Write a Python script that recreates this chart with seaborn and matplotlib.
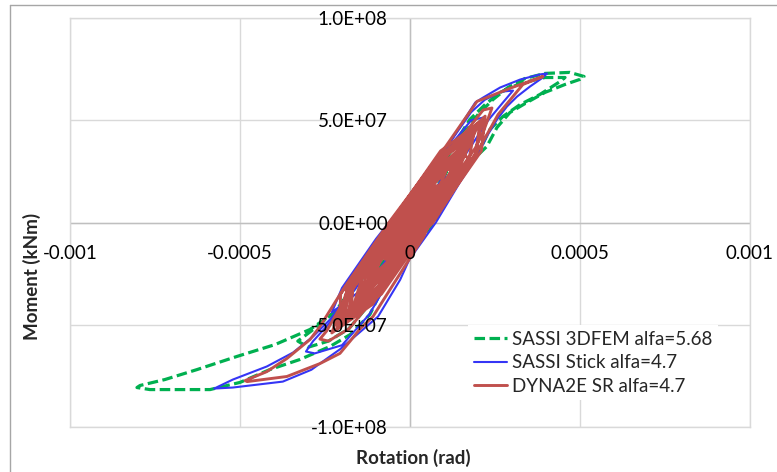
import numpy as np
import pandas as pd
import matplotlib
matplotlib.use("Agg")
import matplotlib.pyplot as plt
from matplotlib.lines import Line2D
from matplotlib.ticker import FuncFormatter
import seaborn as sns

# Moment-rotation hysteresis loops
# rotation in micro-radians, moment in 1e6 kNm
fem_rot = [0, 70, -30, -80, 30, 130, -45, -150, 50,
           150, 226, 256, 294, 344, 397, 456, 500, 512, 470, 397, 338, 288, 244, 200,
           100, -20, -120, -221, -294, -397, -509, -626, -721, -794, -803,
           -765, -588, -500, -412, -324, -235, -176, -118, -60, 72,
           140, 206, 235, 273, 324, 382, 441, 456, 397, 324, 265, 221, 176, 80, -40,
           -150, -230, -290, -330, -300, -240, -180, -120, -40, 40,
           110, -30, -100, 20, 60, 0]
fem_mom = [0, 18, 0, -20, 0, 32, 0, -38, 0,
           25, 37.2, 46.5, 53.8, 58.7, 63.6, 67.5, 70.0, 71.4, 73.4, 72.9, 70.4, 66.0, 60.1, 52.8,
           30, 5, -20, -44.0, -52.3, -59.7, -65.5, -71.9, -76.8, -79.7, -80.7,
           -81.7, -81.7, -78.2, -71.9, -67.0, -60.6, -54.8, -45.0, -25, 0,
           22, 35.7, 45.5, 51.8, 57.7, 62.6, 68.9, 70.9, 70.9, 68.0, 63.6, 57.7, 50.4, 25, 0,
           -30, -45, -53, -58, -61, -58, -52, -40, -15, 5,
           26, 0, -24, 0, 12, 0]

stick_rot = [0, 60, -25, -70, 25, 120, -40, -130, 45,
             150, 190, 215, 180, 120, 40, -40,
             -150, -230, -285, -306, -280, -200, -120, -40, 40,
             150, 230, 275, 303, 270, 220, 180, 100, 0, -100,
             -190, -235, -285, -344, -421, -521, -576, -521, -374, -290, -240, -206, -150, -94,
             -29, -2, 76, 148, 197, 226, 256, 285, 315, 353, 391, 403,
             382, 324, 265, 215, 192, 120, 0, -100, -200,
             -230, -120, 0, 150, 40, -100, 0]
stick_mom = [0, 15, 0, -18, 0, 30, 0, -33, 0,
             35, 45, 51.3, 50, 38, 17, 0,
             -30, -48, -58, -63.1, -64, -60, -45, -22, 0,
             30, 50, 59, 64.5, 64, 60, 54, 35, 12, -15,
             -38, -47.4, -55.7, -63.6, -70.4, -76.8, -81.2, -80.7, -77.8, -72, -66, -62, -54, -46,
             -28, -18.1, 0, 20, 32.3, 42.1, 50.4, 56.7, 61.6, 66.5, 70.9, 72.9,
             72.4, 69.9, 66.0, 61.1, 58.7, 40, 13, -8, -32,
             -44, -30, -2, 30, 10, -20, 0]

dyna_rot = [0,
            53, 30, -40, -47, -24, 46,
            79, 41, -65, -73, -35, 71,
            104, 52, -90, -98, -46, 96,
            146, 89, -111, -140, -83, 117,
            129, 61, -115, -123, -55, 121,
            154, 71, -141, -148, -65, 147,
            110, 50, -170, -195, -85, 100,
            171, 93, -143, -165, -87, 149,
            129, 61, -189, -215, -99, 121,
            179, 80, -167, -173, -75, 172,
            188, 92, -166, -182, -86, 172,
            150, 75, -200, -230, -110, 140,
            196, 84, -186, -190, -78, 192,
            205, 96, -186, -199, -90, 192,
            213, 90, -204, -207, -84, 210,
            221, 120, -186, -215, -114, 192,
            215, 241, 215, 120, 0, -120, -200, -245, -265, -240, -180, -110, -40, 68,
            149, 215, 259, 332, 391, 300, 197, 98, -62, -197, -265, -294, -362, -421, -485,
            -479, -362, -265, -206, -176, -147, -109, -52, 40,
            163, 95, -129, -157, -89, 135,
            121, 75, -89, -115, -69, 95,
            70, 46, -48, -64, -40, 54,
            37, 25, -23, -31, -19, 29,
            0]
dyna_mom = [0,
            12, 8.4, -8.4, -12, -8.4, 8.4,
            18, 12.6, -12.6, -18, -12.6, 12.6,
            24, 16.8, -16.8, -24, -16.8, 16.8,
            34, 23.8, -23.8, -34, -23.8, 23.8,
            30, 21, -21, -30, -21, 21,
            36, 25.2, -25.2, -36, -25.2, 25.2,
            26, 18, -30, -45, -30, 18,
            40, 28, -28, -40, -28, 28,
            30, 21, -35, -50, -35, 21,
            42, 29.4, -29.4, -42, -29.4, 29.4,
            44, 30.8, -30.8, -44, -30.8, 30.8,
            36, 25, -40, -54, -40, 25,
            46, 32.2, -32.2, -46, -32.2, 32.2,
            48, 33.6, -33.6, -48, -33.6, 33.6,
            50, 35, -35, -50, -35, 35,
            52, 36.4, -36.4, -52, -36.4, 36.4,
            44, 56, 55, 35, 8, -20, -40, -53, -57, -58, -52, -38, -18, 0,
            21, 39.6, 52.8, 67.5, 71.4, 66, 59.2, 35.5, 0, -32.8, -50.9, -57.2, -66.5, -72.9, -77.3,
            -77.8, -75.3, -69, -64, -58, -52, -46, -31, -7,
            38, 26.6, -26.6, -38, -26.6, 26.6,
            28, 19.6, -19.6, -28, -19.6, 19.6,
            16, 11.2, -11.2, -16, -11.2, 11.2,
            8, 5.6, -5.6, -8, -5.6, 5.6,
            0]

series_names = ["SASSI 3DFEM alfa=5.68", "SASSI Stick alfa=4.7", "DYNA2E SR alfa=4.7"]
series_colors = ["#00B050", "#3535F5", "#C0504D"]
x_ticks = [-0.001, -0.0005, 0, 0.0005, 0.001]
y_ticks = [-1e8, -5e7, 0, 5e7, 1e8]


def to_frame(rot, mom):
    return pd.DataFrame({"rotation": np.array(rot) * 1e-6, "moment": np.array(mom) * 1e6})


sns.set_theme(style="white")
plt.rcParams["font.family"] = ["Lato", "DejaVu Sans"]

W, H = 777, 472
fig = plt.figure(figsize=(W / 100, H / 100), dpi=100)
rect = [70 / W, 45 / H, 680 / W, 409 / H]
ax = fig.add_axes(rect)

frames = [to_frame(fem_rot, fem_mom), to_frame(stick_rot, stick_mom), to_frame(dyna_rot, dyna_mom)]
styles = [dict(lw=2.3, linestyle=(0, (3.3, 1.4))), dict(lw=1.5), dict(lw=2.1)]
for df, name, col, st in zip(frames, series_names, series_colors, styles):
    sns.lineplot(data=df, x="rotation", y="moment", sort=False, estimator=None,
                 color=col, label=name, ax=ax, **st)

ax.set_xlim(-0.001, 0.001)
ax.set_ylim(-1e8, 1e8)
ax.set_xticks(x_ticks)
ax.set_yticks(y_ticks)
ax.grid(True, color="#d9d9d9", lw=1)
ax.set_axisbelow(True)
ax.tick_params(length=0, labelbottom=False, labelleft=False)
ax.set_xlabel("")
ax.set_ylabel("")
for s in ax.spines.values():
    s.set_color("#d9d9d9")
    s.set_linewidth(1)
ax.axhline(0, color="#bfbfbf", lw=1, zorder=0.8)
ax.axvline(0, color="#bfbfbf", lw=1, zorder=0.8)
handles, labels = ax.get_legend_handles_labels()
ax.get_legend().remove()

# overlay axes carrying the tick labels on top of the data
lab = fig.add_axes(rect, facecolor="none")
lab.set_xlim(-0.001, 0.001)
lab.set_ylim(-1e8, 1e8)
lab.set_xticks(x_ticks)
lab.set_yticks(y_ticks)
lab.xaxis.set_major_formatter(FuncFormatter(lambda v, p: f"{v:g}"))
lab.yaxis.set_major_formatter(FuncFormatter(lambda v, p: f"{v:.1E}"))
lab.spines["left"].set_position("zero")
lab.spines["bottom"].set_position("zero")
for s in lab.spines.values():
    s.set_visible(False)
lab.grid(False)
lab.tick_params(length=0, pad=16, labelsize=13.5, colors="black")

fig.text(413 / W, 1 - 458 / H, "Rotation (rad)", ha="center", va="center",
         fontsize=13.5, fontweight="bold")
fig.text(32 / W, 1 - 276 / H, "Moment (kNm)", ha="center", va="center",
         rotation=90, fontsize=13.5, fontweight="bold")

fig.legend(handles, labels, loc="upper left", bbox_to_anchor=(468 / W, 1 - 325 / H),
           frameon=True, fancybox=False, edgecolor="none", facecolor="white", framealpha=1,
           fontsize=13.5, handlelength=1.8, handletextpad=0.25, labelspacing=0.35,
           borderpad=0.3, borderaxespad=0)

# chart area border (top and left edges are visible)
fig.add_artist(Line2D([10 / W, 10 / W], [0, 1 - 5 / H], transform=fig.transFigure,
                      color="#a6a6a6", lw=1))
fig.add_artist(Line2D([10 / W, 1], [1 - 5 / H, 1 - 5 / H], transform=fig.transFigure,
                      color="#a6a6a6", lw=1))

fig.savefig("out.png", dpi=100, facecolor="white")
